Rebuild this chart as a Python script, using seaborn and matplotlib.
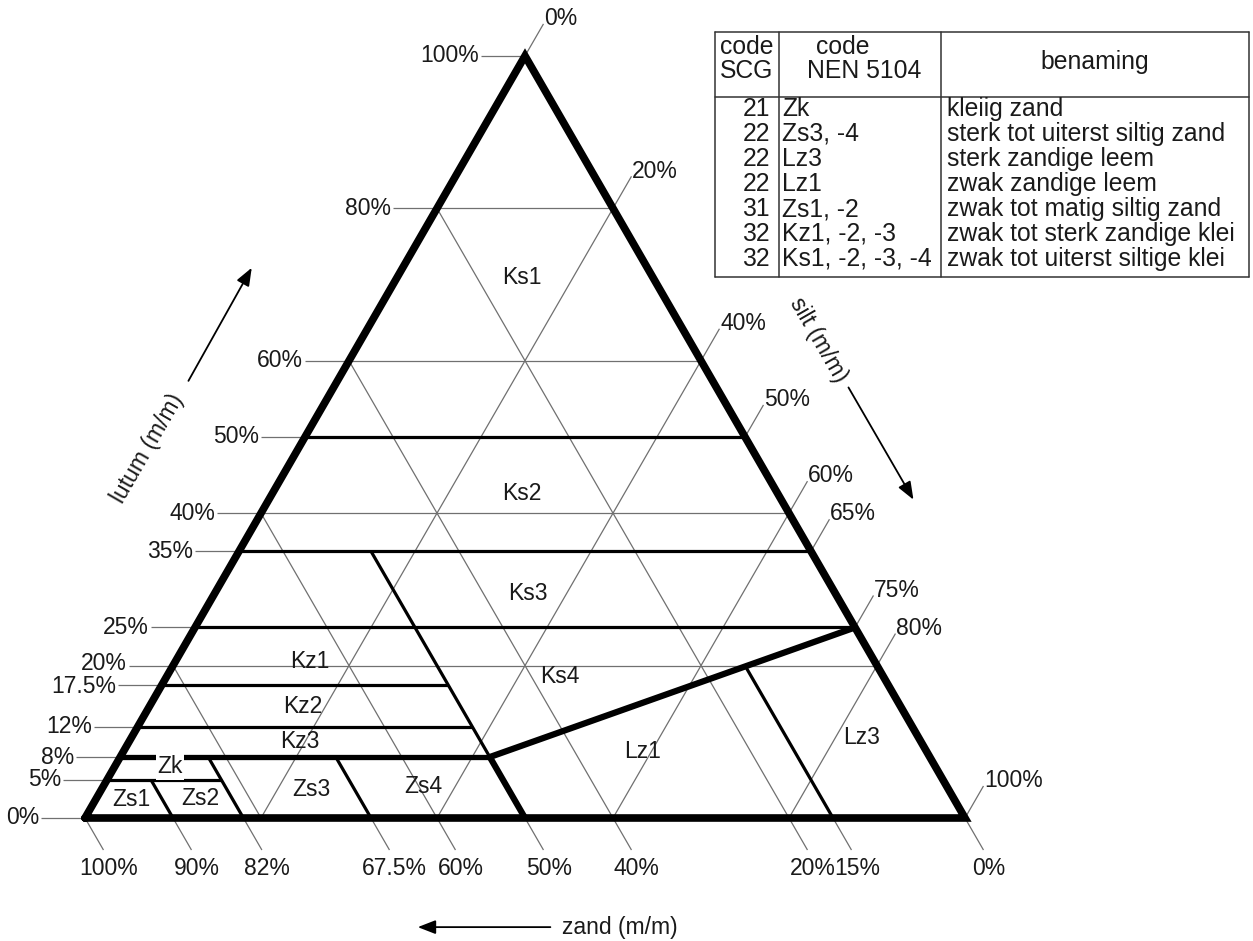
import numpy as np
import pandas as pd
import matplotlib
matplotlib.use("Agg")
import matplotlib.pyplot as plt
from matplotlib.lines import Line2D
import seaborn as sns

# ---- data (all values in % m/m) ----
lutum_grid = [20, 40, 60, 80]
silt_grid = [20, 40, 60, 80]
zand_grid = [20, 40, 60, 80]

# horizontal class borders: lutum value and the zand value where the border stops
lutum_bounds = [50, 35, 25, 17.5, 12, 5]
lutum_bounds_zand_end = [0, 0, 0, 50, 50, 82]

# zand class borders, running from lutum_lo to lutum_hi
zand_bounds = [90, 82, 67.5, 50]
zand_bounds_lutum_lo = [0, 0, 0, 8]
zand_bounds_lutum_hi = [5, 8, 8, 35]

# heavy borders
heavy_lutum = 8
heavy_lutum_zand_end = 50
heavy_zand = 50
heavy_zand_lutum_hi = 8
leem_start = (8, 50)   # (lutum, zand)
leem_end = (25, 0)
lz3_zand = 15

lutum_ticks = [100, 80, 60, 50, 40, 35, 25, 20, 17.5, 12, 8, 5, 0]
silt_ticks = [0, 20, 40, 50, 60, 65, 75, 80, 100]
zand_ticks = [100, 90, 82, 67.5, 60, 50, 40, 20, 15, 0]

class_names = ["Ks1", "Ks2", "Ks3", "Ks4", "Kz1", "Kz2", "Kz3", "Zk",
               "Zs1", "Zs2", "Zs3", "Zs4", "Lz1", "Lz3"]
class_lutum = [70.9, 42.6, 29.5, 18.6, 20.5, 14.6, 10.0, 6.7,
               2.4, 2.6, 3.7, 4.1, 8.7, 10.6]
class_silt = [14.2, 28.3, 35.6, 44.7, 15.3, 17.5, 19.4, 6.3,
              4.1, 11.8, 23.9, 36.4, 59.0, 83.0]

scg_codes = ["21", "22", "22", "22", "31", "32", "32"]
nen_codes = ["Zk", "Zs3, -4", "Lz3", "Lz1", "Zs1, -2", "Kz1, -2, -3", "Ks1, -2, -3, -4"]
benaming = ["kleiig zand", "sterk tot uiterst siltig zand", "sterk zandige leem",
            "zwak zandige leem", "zwak tot matig siltig zand",
            "zwak tot sterk zandige klei", "zwak tot uiterst siltige klei"]

SQ3 = np.sqrt(3) / 2


def tern(lutum, zand):
    silt = 100 - lutum - zand
    return silt + lutum / 2, lutum * SQ3


# build line segments
rows = []


def add_seg(kind, p0, p1):
    seg = len(rows)
    for p in (p0, p1):
        rows.append({"x": p[0], "y": p[1], "seg": seg, "kind": kind})


for l in lutum_grid:
    add_seg("grid", tern(l, 100 - l), tern(l, 0))
for s in silt_grid:
    add_seg("grid", tern(0, 100 - s), tern(100 - s, 0))
for z in zand_grid:
    add_seg("grid", tern(0, z), tern(100 - z, z))

# leaders to the tick labels
LEAD = 4.2
left_pts, right_pts, bottom_pts = [], [], []
for l in lutum_ticks:
    x, y = tern(l, 100 - l)
    add_seg("grid", (x, y), (x - 5.0, y))
    left_pts.append((x - 5.2, y))
for s in silt_ticks:
    x, y = tern(100 - s, 0)
    e = (x + 0.5 * LEAD, y + SQ3 * LEAD)
    add_seg("grid", (x, y), e)
    right_pts.append(e)
for z in zand_ticks:
    x, y = tern(0, z)
    e = (x + 0.5 * LEAD, y - SQ3 * LEAD)
    add_seg("grid", (x, y), e)
    bottom_pts.append(e)

for l, zend in zip(lutum_bounds, lutum_bounds_zand_end):
    add_seg("border", tern(l, 100 - l), tern(l, zend))
for z, lo, hi in zip(zand_bounds, zand_bounds_lutum_lo, zand_bounds_lutum_hi):
    add_seg("border", tern(lo, z), tern(hi, z))

# Lz3 border runs up to the Ks4/Lz1 line
t = (leem_start[1] - lz3_zand) / (leem_start[1] - leem_end[1])
lz3_top = leem_start[0] + t * (leem_end[0] - leem_start[0])
add_seg("border", tern(0, lz3_zand), tern(lz3_top, lz3_zand))

add_seg("heavy8", tern(heavy_lutum, 100 - heavy_lutum), tern(heavy_lutum, heavy_lutum_zand_end))
add_seg("heavy", tern(0, heavy_zand), tern(heavy_zand_lutum_hi, heavy_zand))
add_seg("heavy", tern(*leem_start), tern(*leem_end))

lines = pd.DataFrame(rows)

sns.set_theme(style="white")
plt.rcParams["font.family"] = ["Liberation Sans", "DejaVu Sans"]

fig = plt.figure(figsize=(12.53, 9.41), dpi=100)
ax = fig.add_axes([0, 0, 1, 1])
PX = 8.8
ax.set_xlim(-85 / PX, (1253 - 85) / PX)
ax.set_ylim(-(941 - 818) / PX, 818 / PX)
ax.axis("off")

styles = {"grid": ("#707070", 0.9), "border": ("black", 2.3),
          "heavy8": ("black", 3.8), "heavy": ("black", 4.5)}
for kind, (col, lw) in styles.items():
    sns.lineplot(data=lines[lines["kind"] == kind], x="x", y="y", units="seg",
                 estimator=None, sort=False, color=col, linewidth=lw, ax=ax,
                 solid_capstyle="butt")

# outer triangle
tri = [tern(0, 100), tern(0, 0), tern(100, 0), tern(0, 100)]
ax.plot([p[0] for p in tri], [p[1] for p in tri], color="black", lw=5.5,
        solid_joinstyle="miter", zorder=4)

FS = 16.5
TXT = "#1a1a1a"
for (x, y), v in zip(left_pts, lutum_ticks):
    dy = {20: 0.25, 17.5: -0.2}.get(v, 0)
    ax.text(x, y + dy, f"{v:g}%", ha="right", va="center", fontsize=FS, color=TXT)
for (x, y), v in zip(right_pts, silt_ticks):
    ax.text(x + 0.1, y + 0.6, f"{v:g}%", ha="left", va="center", fontsize=FS, color=TXT)
for (x, y), v in zip(bottom_pts, zand_ticks):
    ax.text(x + 0.6, y - 2.1, f"{v:g}%", ha="center", va="center", fontsize=FS, color=TXT)

for name, l, s in zip(class_names, class_lutum, class_silt):
    x, y = tern(l, 100 - l - s)
    kw = {}
    if name == "Zk":
        kw["bbox"] = dict(boxstyle="square,pad=0.05", fc="white", ec="none")
    ax.text(x, y, name, ha="center", va="center", fontsize=FS, color=TXT,
            zorder=6, **kw)

# axis titles with arrows
arrow = dict(arrowstyle="-|>,head_length=0.9,head_width=0.35", color="black", lw=1.3)
ax.text(7.16, 42.0, "lutum (m/m)", rotation=60, ha="center", va="center",
        fontsize=FS, color=TXT, rotation_mode="anchor")
ax.annotate("", xy=(19.1, 62.8), xytext=(11.6, 49.4), arrowprops=arrow)
ax.text(83.3, 54.3, "silt (m/m)", rotation=-60, ha="center", va="center",
        fontsize=FS, color=TXT, rotation_mode="anchor")
ax.annotate("", xy=(94.3, 35.9), xytext=(86.6, 49.2), arrowprops=arrow)
ax.text(54.2, -12.4, "zand (m/m)", ha="left", va="center", fontsize=FS, color=TXT)
ax.annotate("", xy=(37.5, -12.4), xytext=(53.2, -12.4), arrowprops=arrow)


# ---- legend table (pixel layout) ----
def fx(p):
    return p / 1253


def fy(p):
    return 1 - p / 941


T_L, T_R, T_T, T_H, T_B = 715, 1249, 32, 97, 277
C1, C2 = 779, 941
tcol = "#333"
for xs, ys in [((T_L, T_R), (T_T, T_T)), ((T_L, T_R), (T_B, T_B)),
               ((T_L, T_L), (T_T, T_B)), ((T_R, T_R), (T_T, T_B)),
               ((C1, C1), (T_T, T_B)), ((C2, C2), (T_T, T_B)),
               ((T_L, T_R), (T_H, T_H))]:
    fig.add_artist(Line2D([fx(v) for v in xs], [fy(v) for v in ys],
                          color=tcol, lw=1.1))

TFS = 17.8
fig.text(fx(747), fy(47), "code", ha="center", va="center", fontsize=TFS, color=TXT)
fig.text(fx(747), fy(71), "SCG", ha="center", va="center", fontsize=TFS, color=TXT)
fig.text(fx(816), fy(47), "code", ha="left", va="center", fontsize=TFS, color=TXT)
fig.text(fx(807), fy(71), "NEN 5104", ha="left", va="center", fontsize=TFS, color=TXT)
fig.text(fx((C2 + T_R) / 2), fy(62), "benaming", ha="center", va="center",
         fontsize=TFS, color=TXT)

row_y0, row_dy = 109, 25
for i, (a, b, c) in enumerate(zip(scg_codes, nen_codes, benaming)):
    yy = fy(row_y0 + i * row_dy)
    fig.text(fx(770), yy, a, ha="right", va="center", fontsize=TFS, color=TXT)
    fig.text(fx(782), yy, b, ha="left", va="center", fontsize=TFS, color=TXT)
    fig.text(fx(947), yy, c, ha="left", va="center", fontsize=TFS, color=TXT)

fig.savefig("out.png", dpi=100)
